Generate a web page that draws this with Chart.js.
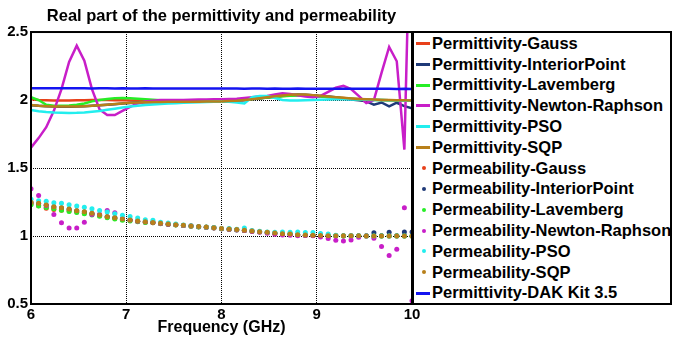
<!DOCTYPE html>
<html>
<head>
<meta charset="utf-8">
<script src="https://cdn.jsdelivr.net/npm/chart.js@4.4.0/dist/chart.umd.min.js"></script>
<style>
  body { margin: 0; background: #fff; }
  #wrap { position: relative; width: 673px; height: 338px; }
  #legend {
    position: absolute; left: 412px; top: 31px; width: 260px;
    box-sizing: border-box; border: 2px solid #000; background: #fff;
    font: bold 16.5px Arial, "Liberation Sans", sans-serif; color: #000;
  }
  .row { display: flex; align-items: center; height: 20.8px; white-space: nowrap; }
  .mk { width: 18px; height: 20.8px; position: relative; flex: none; }
  .mk .ln { position: absolute; left: 2px; top: 9px; width: 14px; height: 3px; }
  .mk .dt { position: absolute; left: 7.5px; top: 8.5px; width: 4px; height: 4px; border-radius: 50%; }
</style>
</head>
<body>
<div id="wrap">
  <canvas id="myChart"></canvas>
  <div id="legend"></div>
</div>
<script>
// частоты (GHz)
const freqGHz = [6.00, 6.08, 6.16, 6.24, 6.32, 6.40, 6.48, 6.56, 6.64, 6.72,
  6.80, 6.88, 6.96, 7.04, 7.12, 7.20, 7.28, 7.36, 7.44, 7.52,
  7.60, 7.68, 7.76, 7.84, 7.92, 8.00, 8.08, 8.16, 8.24, 8.32,
  8.40, 8.48, 8.56, 8.64, 8.72, 8.80, 8.88, 8.96, 9.04, 9.12,
  9.20, 9.28, 9.36, 9.44, 9.52, 9.60, 9.68, 9.76, 9.84, 9.92, 10.00];

const xTicks = [6, 7, 8, 9, 10];
const yTicks = [0.5, 1, 1.5, 2, 2.5];

// диэлектрическая проницаемость
const epsGauss = [2.005, 2.000, 1.998, 1.997, 1.997, 1.997, 1.998, 1.999, 2.000, 2.000,
  2.000, 1.999, 1.998, 1.997, 1.996, 1.995, 1.994, 1.993, 1.993, 1.993,
  1.994, 1.995, 1.996, 1.997, 1.998, 1.999, 2.000, 2.002, 2.005, 2.009,
  2.014, 2.019, 2.024, 2.029, 2.033, 2.035, 2.035, 2.032, 2.028, 2.023,
  2.018, 2.014, 2.010, 2.007, 2.004, 2.002, 2.000, 1.999, 1.998, 1.997, 1.996];
const epsInterior = [1.962, 1.957, 1.954, 1.952, 1.951, 1.951, 1.952, 1.954, 1.957, 1.961,
  1.965, 1.969, 1.974, 1.978, 1.981, 1.983, 1.984, 1.985, 1.986, 1.987,
  1.987, 1.987, 1.987, 1.988, 1.988, 1.989, 1.991, 1.994, 1.999, 2.005,
  2.012, 2.019, 2.026, 2.032, 2.037, 2.040, 2.039, 2.035, 2.030, 2.025,
  2.020, 2.010, 2.003, 1.998, 1.990, 1.966, 1.982, 1.954, 1.980, 1.955, 1.940];
const epsLavemberg = [2.020, 2.000, 1.965, 1.958, 1.958, 1.960, 1.965, 1.975, 1.990, 2.000,
  2.008, 2.013, 2.015, 2.013, 2.010, 2.006, 2.002, 1.998, 1.995, 1.993,
  1.992, 1.992, 1.992, 1.993, 1.994, 1.995, 1.997, 2.000, 2.004, 2.008,
  2.013, 2.018, 2.023, 2.027, 2.031, 2.033, 2.033, 2.030, 2.026, 2.022,
  2.017, 2.013, 2.009, 2.006, 2.003, 2.001, 2.000, 1.999, 1.998, 1.997, 1.996];
const epsNewton = [1.650, 1.720, 1.800, 1.920, 2.080, 2.280, 2.400, 2.290, 2.080, 1.930,
  1.890, 1.890, 1.920, 1.950, 1.975, 1.990, 1.995, 2.000, 2.000, 2.000,
  2.000, 2.002, 2.003, 2.004, 2.005, 2.006, 2.008, 2.010, 2.015, 2.020,
  2.025, 2.030, 2.040, 2.050, 2.045, 2.035, 2.025, 2.020, 2.030, 2.060,
  2.090, 2.105, 2.080, 2.030, 1.978, 2.000, 2.200, 2.390, 2.285, 1.635, 3.900];
const epsPSO = [1.926, 1.918, 1.912, 1.908, 1.906, 1.905, 1.906, 1.909, 1.914, 1.920,
  1.928, 1.936, 1.945, 1.952, 1.958, 1.963, 1.967, 1.971, 1.974, 1.977,
  1.980, 1.982, 1.984, 1.986, 1.988, 1.990, 1.988, 1.982, 1.975, 2.020,
  2.030, 2.030, 2.015, 2.000, 1.997, 1.997, 1.998, 2.000, 2.002, 2.004,
  2.005, 2.005, 2.004, 2.003, 2.002, 2.001, 2.000, 1.999, 1.998, 1.997, 1.996];
const epsSQP = [1.963, 1.958, 1.955, 1.953, 1.952, 1.952, 1.953, 1.955, 1.958, 1.962,
  1.966, 1.970, 1.975, 1.979, 1.982, 1.984, 1.985, 1.986, 1.987, 1.988,
  1.988, 1.988, 1.988, 1.989, 1.989, 1.990, 1.992, 1.995, 2.000, 2.006,
  2.013, 2.020, 2.027, 2.033, 2.038, 2.041, 2.040, 2.036, 2.031, 2.026,
  2.021, 2.016, 2.012, 2.008, 2.005, 2.003, 2.001, 2.000, 1.999, 1.998, 1.997];
const epsDAK = [2.087, 2.086, 2.087, 2.086, 2.086, 2.087, 2.086, 2.086, 2.085, 2.086,
  2.086, 2.085, 2.086, 2.085, 2.085, 2.086, 2.085, 2.085, 2.084, 2.085,
  2.085, 2.084, 2.085, 2.084, 2.084, 2.085, 2.084, 2.084, 2.083, 2.084,
  2.084, 2.083, 2.084, 2.083, 2.083, 2.084, 2.083, 2.083, 2.082, 2.083,
  2.083, 2.082, 2.083, 2.082, 2.082, 2.083, 2.082, 2.082, 2.081, 2.082, 2.081];

// магнитная проницаемость
const muGauss = [1.235, 1.222, 1.205, 1.195, 1.190, 1.183, 1.176, 1.168, 1.160, 1.150,
  1.140, 1.130, 1.122, 1.115, 1.108, 1.102, 1.098, 1.092, 1.087, 1.082,
  1.078, 1.073, 1.068, 1.065, 1.060, 1.054, 1.050, 1.046, 1.041, 1.036,
  1.031, 1.026, 1.021, 1.016, 1.014, 1.009, 1.006, 1.004, 1.002, 1.001,
  1.001, 1.000, 1.000, 1.000, 1.000, 1.000, 1.000, 1.000, 1.000, 1.000, 1.000];
const muInterior = [1.246, 1.238, 1.226, 1.214, 1.206, 1.196, 1.185, 1.177, 1.166, 1.153,
  1.141, 1.134, 1.124, 1.117, 1.109, 1.104, 1.099, 1.092, 1.087, 1.082,
  1.078, 1.073, 1.068, 1.065, 1.060, 1.054, 1.050, 1.046, 1.041, 1.036,
  1.031, 1.026, 1.021, 1.016, 1.014, 1.009, 1.006, 1.004, 1.003, 1.002,
  1.002, 1.001, 1.001, 1.001, 1.002, 1.024, 1.001, 1.027, 1.002, 1.029, 1.030];
const muLavemberg = [1.230, 1.220, 1.210, 1.200, 1.190, 1.180, 1.172, 1.163, 1.155, 1.145,
  1.135, 1.125, 1.115, 1.110, 1.105, 1.100, 1.097, 1.091, 1.086, 1.081,
  1.077, 1.072, 1.067, 1.064, 1.059, 1.053, 1.049, 1.045, 1.040, 1.035,
  1.030, 1.025, 1.020, 1.015, 1.013, 1.008, 1.005, 1.003, 1.002, 1.001,
  1.001, 1.000, 1.000, 1.000, 1.000, 1.000, 1.000, 1.000, 1.000, 1.000, 1.000];
const muNewton = [1.347, 1.298, 1.225, 1.159, 1.098, 1.059, 1.059, 1.102, 1.159, 1.160,
  1.188, 1.171, 1.128, 1.117, 1.109, 1.104, 1.099, 1.092, 1.087, 1.082,
  1.078, 1.073, 1.068, 1.064, 1.059, 1.053, 1.049, 1.045, 1.040, 1.034,
  1.028, 1.020, 1.012, 1.008, 1.006, 1.002, 1.003, 1.002, 0.993, 0.981,
  0.969, 0.963, 0.971, 0.990, 1.000, 0.983, 0.922, 0.857, 0.903, 1.208, 0.524];
const muPSO = [1.270, 1.260, 1.255, 1.245, 1.240, 1.230, 1.220, 1.212, 1.200, 1.188,
  1.176, 1.164, 1.152, 1.144, 1.132, 1.120, 1.115, 1.102, 1.095, 1.088,
  1.081, 1.075, 1.070, 1.066, 1.062, 1.056, 1.055, 1.050, 1.059, 1.040,
  1.035, 1.030, 1.028, 1.030, 1.027, 1.030, 1.025, 1.025, 1.018, 1.015,
  1.005, 1.002, 1.001, 1.001, 1.000, 1.000, 1.000, 1.000, 1.000, 1.000, 1.000];
const muSQP = [1.248, 1.240, 1.228, 1.215, 1.208, 1.198, 1.186, 1.179, 1.167, 1.154,
  1.142, 1.135, 1.125, 1.118, 1.110, 1.105, 1.100, 1.093, 1.088, 1.083,
  1.079, 1.074, 1.069, 1.066, 1.061, 1.055, 1.051, 1.047, 1.042, 1.037,
  1.032, 1.027, 1.022, 1.017, 1.015, 1.010, 1.007, 1.005, 1.003, 1.002,
  1.002, 1.001, 1.001, 1.001, 1.000, 1.000, 1.000, 1.000, 1.000, 1.000, 1.000];

const FONT = 'Arial, "Liberation Sans", sans-serif';
const C = {
  gauss: '#e8401a', interior: '#1f3a78', lav: '#26ee26', newton: '#c81ec8',
  pso: '#22eeee', sqp: '#b8801a', dak: '#1414f0'
};

// порядок как в легенде
const series = [
  ['Permittivity-Gauss', epsGauss, C.gauss, 'line'],
  ['Permittivity-InteriorPoint', epsInterior, C.interior, 'line'],
  ['Permittivity-Lavemberg', epsLavemberg, C.lav, 'line'],
  ['Permittivity-Newton-Raphson', epsNewton, C.newton, 'line'],
  ['Permittivity-PSO', epsPSO, C.pso, 'line'],
  ['Permittivity-SQP', epsSQP, C.sqp, 'line'],
  ['Permeability-Gauss', muGauss, C.gauss, 'dot'],
  ['Permeability-InteriorPoint', muInterior, C.interior, 'dot'],
  ['Permeability-Lavemberg', muLavemberg, C.lav, 'dot'],
  ['Permeability-Newton-Raphson', muNewton, C.newton, 'dot'],
  ['Permeability-PSO', muPSO, C.pso, 'dot'],
  ['Permeability-SQP', muSQP, C.sqp, 'dot'],
  ['Permittivity-DAK Kit 3.5', epsDAK, C.dak, 'line']
];

const datasets = series.map((s, i) => {
  const pts = freqGHz.map((f, k) => ({ x: f, y: s[1][k] }));
  const ds = {
    label: s[0],
    data: pts,
    borderColor: s[2],
    backgroundColor: s[2],
    order: series.length - i   // последние рисуются сверху
  };
  if (s[3] === 'line') {
    ds.borderWidth = 2.5;
    ds.pointRadius = 0;
    ds.tension = 0;
  } else {
    ds.showLine = false;
    ds.pointRadius = 2.5;
    ds.pointBorderWidth = 0;
    ds.pointBackgroundColor = s[2];
  }
  return ds;
});

// рамка вокруг области графика
const frame = {
  id: 'frame',
  afterDatasetsDraw(chart) {
    const a = chart.chartArea, ctx = chart.ctx;
    ctx.save();
    ctx.strokeStyle = '#000';
    ctx.lineWidth = 2;
    ctx.strokeRect(a.left, a.top, a.right - a.left, a.bottom - a.top);
    ctx.restore();
  }
};

const tickFont = { family: FONT, size: 15, weight: 'bold' };

new Chart(document.getElementById('myChart'), {
  type: 'line',
  data: { datasets: datasets },
  options: {
    responsive: true,
    maintainAspectRatio: false,
    animation: false,
    layout: { padding: { left: 0, right: 261, top: 0, bottom: 0 } },
    plugins: {
      legend: { display: false },
      tooltip: { enabled: false },
      title: {
        display: true,
        fullSize: false,
        text: 'Real part of the permittivity and permeability',
        color: '#000',
        font: { family: FONT, size: 16.5, weight: 'bold', lineHeight: 1.25 },
        padding: { top: 6, bottom: 5.4 }
      }
    },
    scales: {
      x: {
        type: 'linear',
        min: 6, max: 10,
        afterBuildTicks: (sc) => { sc.ticks = xTicks.map(v => ({ value: v })); },
        afterFit: (sc) => { sc.height = 34; },
        ticks: { color: '#000', font: tickFont, padding: 2, callback: (v) => String(v) },
        grid: { color: '#000', lineWidth: 1, drawTicks: false },
        border: { display: false, dash: [1, 1] },
        title: {
          display: true, text: 'Frequency (GHz)', color: '#000',
          font: { family: FONT, size: 16, weight: 'bold' },
          padding: { top: 0, bottom: 1 }
        }
      },
      y: {
        min: 0.5, max: 2.5,
        afterBuildTicks: (sc) => { sc.ticks = yTicks.map(v => ({ value: v })); },
        afterFit: (sc) => { sc.width = 31; },
        ticks: { color: '#000', font: tickFont, padding: 3, callback: (v) => String(v) },
        grid: { color: '#000', lineWidth: 1, drawTicks: false },
        border: { display: false, dash: [1, 1] }
      }
    }
  },
  plugins: [frame]
});

// легенда
const leg = document.getElementById('legend');
series.forEach(s => {
  const row = document.createElement('div');
  row.className = 'row';
  const mk = document.createElement('span');
  mk.className = 'mk';
  const m = document.createElement('span');
  m.className = s[3] === 'line' ? 'ln' : 'dt';
  m.style.background = s[2];
  mk.appendChild(m);
  const t = document.createElement('span');
  t.textContent = s[0];
  row.appendChild(mk);
  row.appendChild(t);
  leg.appendChild(row);
});
</script>
</body>
</html>
